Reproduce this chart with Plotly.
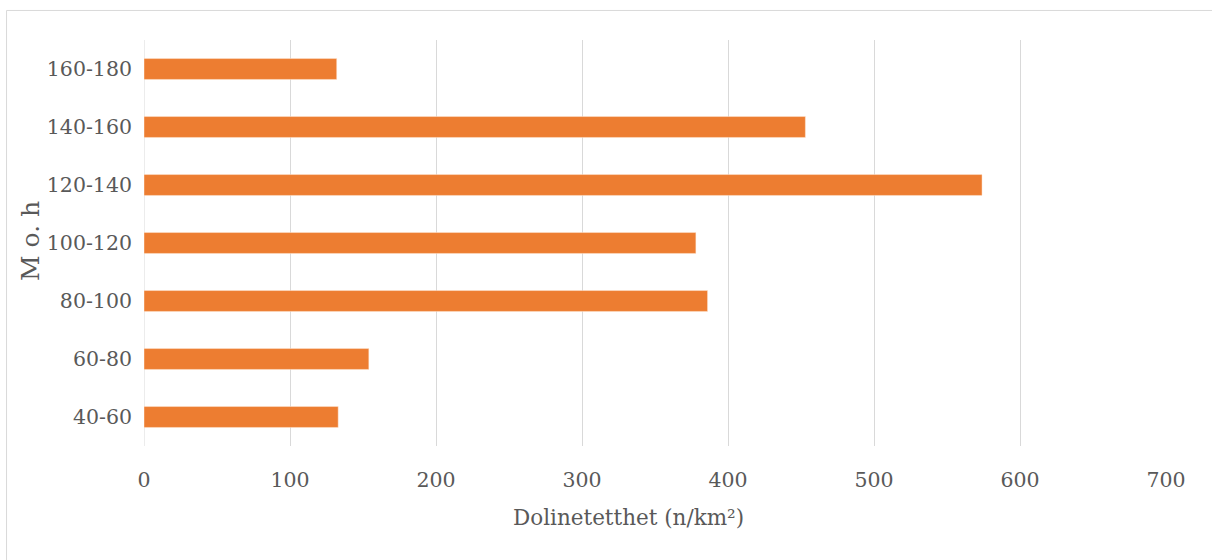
import plotly.graph_objects as go

# Dolinetetthet per høydeintervall (m o.h.)
hoydeintervall = ["40-60", "60-80", "80-100", "100-120", "120-140", "140-160", "160-180"]
dolinetetthet = [133, 154, 386, 378, 574, 453, 132]
x_ticks = [0, 100, 200, 300, 400, 500, 600, 700]

FONT = "DejaVu Serif"
TXT = "#595959"
GRID = "#d9d9d9"
BAR = "#ED7D31"

fig = go.Figure(
    go.Bar(
        x=dolinetetthet,
        y=hoydeintervall,
        orientation="h",
        marker=dict(color=BAR, line=dict(color="rgba(255,235,220,0.8)", width=0.6)),
        hoverinfo="x+y",
    )
)

fig.update_layout(
    width=1212,
    height=560,
    margin=dict(l=144, r=46, t=40, b=114),
    paper_bgcolor="white",
    plot_bgcolor="white",
    bargap=0.64,
    showlegend=False,
    font=dict(family=FONT, color=TXT, size=20),
    xaxis=dict(
        range=[0, 700],
        tickvals=x_ticks,
        ticktext=[str(v) for v in x_ticks],
        showgrid=True,
        gridcolor=GRID,
        gridwidth=1,
        zeroline=False,
        showline=False,
        ticks="",
        ticklabelstandoff=19,
        tickfont=dict(family=FONT, size=20.5, color=TXT),
        fixedrange=True,
    ),
    yaxis=dict(
        categoryorder="array",
        categoryarray=hoydeintervall,
        showgrid=False,
        zeroline=False,
        showline=False,
        ticks="",
        ticklabelstandoff=11,
        tickfont=dict(family=FONT, size=20.5, color=TXT),
        fixedrange=True,
    ),
    shapes=[
        # chart frame
        dict(
            type="rect", xref="paper", yref="paper",
            x0=-0.1345, x1=1.06, y0=-0.32, y1=1.0727,
            line=dict(color=GRID, width=1), fillcolor="rgba(0,0,0,0)", layer="below",
        ),
        # left edge gridline at 0
        dict(
            type="line", xref="x", yref="paper", x0=0, x1=0, y0=0, y1=1,
            line=dict(color=GRID, width=1), layer="below",
        ),
    ],
    annotations=[
        dict(
            text="Dolinetetthet (n/km²)",
            xref="paper", yref="paper",
            x=(628 - 144) / 1022, y=(446 - 517) / 406,
            xanchor="center", yanchor="middle",
            showarrow=False,
            font=dict(family=FONT, size=21.5, color=TXT),
        ),
        dict(
            text="M o. h",
            xref="paper", yref="paper",
            x=(30 - 144) / 1022, y=(446 - 241) / 406,
            xanchor="center", yanchor="middle",
            textangle=-90,
            showarrow=False,
            font=dict(family=FONT, size=25, color=TXT),
        ),
    ],
)

fig.write_html("out.html")
